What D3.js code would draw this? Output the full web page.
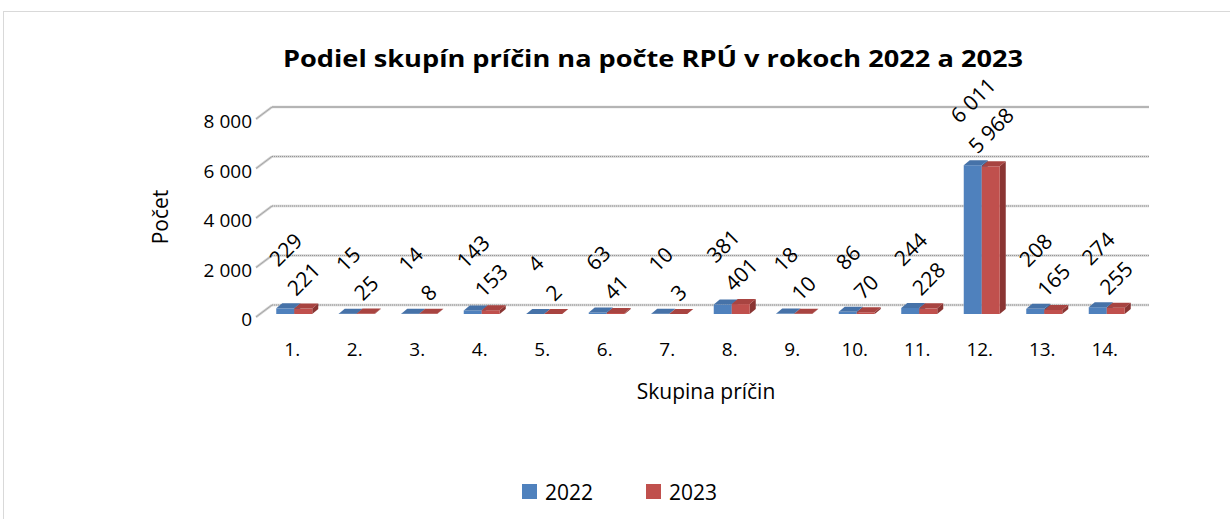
<!DOCTYPE html>
<html>
<head>
<meta charset="utf-8">
<script src="https://cdn.jsdelivr.net/npm/d3@7"></script>
<style>
  body { margin: 0; background: #fff; }
  text { font-family: "Open Sans", Lato, sans-serif; fill: #000; }
</style>
</head>
<body>
<div id="chart"></div>
<script>
const categories = ['1.', '2.', '3.', '4.', '5.', '6.', '7.', '8.', '9.', '10.', '11.', '12.', '13.', '14.']
const values2022 = [229, 15, 14, 143, 4, 63, 10, 381, 18, 86, 244, 6011, 208, 274]
const values2023 = [221, 25, 8, 153, 2, 41, 3, 401, 10, 70, 228, 5968, 165, 255]
const yTicks = [0, 2000, 4000, 6000, 8000]
const seriesNames = ['2022', '2023']

const colors = { '2022': '#4F81BD', '2023': '#C0504D' }
const topColors = { '2022': '#4672a8', '2023': '#a84441' }
const sideColors = { '2022': '#375d8c', '2023': '#8a3533' }

const width = 1230
const height = 519

// 3d offsets
const wallDx = 16, wallDy = -12
const barDx = 6, barDy = -5

const fmt = v => d3.format(',')(v).replace(/,/g, ' ')

const svg = d3
  .select('#chart')
  .append('svg')
  .attr('width', width)
  .attr('height', height)

svg
  .append('rect')
  .attr('x', 3.5)
  .attr('y', 11.5)
  .attr('width', 1240)
  .attr('height', 520)
  .attr('fill', 'none')
  .attr('stroke', '#d9d9d9')

const yScale = d3.scaleLinear().domain([0, 8000]).range([314, 116])
const xScale = d3.scaleBand().domain(categories).range([263, 1138])
const xSub = d3.scaleBand().domain(seriesNames).range([-18, 18])

// gridlines on back wall + left diagonals
const grid = svg.append('g').attr('class', 'grid')
yTicks.forEach(t => {
  const yb = yScale(t) - 9
  grid.append('line')
    .attr('x1', 256).attr('y1', yb - wallDy)
    .attr('x2', 256 + wallDx).attr('y2', yb)
    .attr('stroke', '#cfcfcf').attr('stroke-width', 2.4)
  grid.append('line')
    .attr('x1', 256).attr('y1', yb - wallDy)
    .attr('x2', 256 + wallDx).attr('y2', yb)
    .attr('stroke', '#9a9a9a').attr('stroke-width', 0.8)
  grid.append('line')
    .attr('x1', 256 + wallDx).attr('y1', yb)
    .attr('x2', 1149).attr('y2', yb)
    .attr('stroke', '#d4d4d4').attr('stroke-width', 2.6)
  grid.append('line')
    .attr('x1', 256 + wallDx).attr('y1', yb)
    .attr('x2', 1149).attr('y2', yb)
    .attr('stroke', '#8f8f8f').attr('stroke-width', 0.9)
    .attr('stroke-dasharray', t === 8000 ? null : '1,1')
})

// y axis labels
svg.append('g')
  .selectAll('text')
  .data(yTicks)
  .enter()
  .append('text')
  .attr('x', 252)
  .attr('y', d => yScale(d) + 5)
  .attr('text-anchor', 'end')
  .attr('dominant-baseline', 'central')
  .attr('font-size', 19)
  .text(d => fmt(d))

// bars
const rows = categories.map((c, i) => ({ cat: c, '2022': values2022[i], '2023': values2023[i] }))

const barsG = svg.append('g').attr('class', 'bars')
rows.forEach(row => {
  seriesNames.forEach(s => {
    const cx = xScale(row.cat) + xScale.bandwidth() / 2
    const x0 = cx + xSub(s)
    const x1 = x0 + xSub.bandwidth()
    const y0 = yScale(0)
    const y1 = yScale(row[s])
    // side
    barsG.append('path')
      .attr('d', `M${x1},${y1}L${x1 + barDx},${y1 + barDy}L${x1 + barDx},${y0 + barDy}L${x1},${y0}Z`)
      .attr('fill', sideColors[s])
    // front
    barsG.append('rect')
      .attr('x', x0).attr('y', y1)
      .attr('width', x1 - x0).attr('height', y0 - y1)
      .attr('fill', colors[s])
    // top
    barsG.append('path')
      .attr('d', `M${x0},${y1}L${x1},${y1}L${x1 + barDx},${y1 + barDy}L${x0 + barDx},${y1 + barDy}Z`)
      .attr('fill', topColors[s])
  })
})

// data labels, rotated
const gaps = { '2022': 41, '2023': 12 }
const labelsG = svg.append('g').attr('class', 'labels')
rows.forEach(row => {
  seriesNames.forEach(s => {
    const cx = xScale(row.cat) + xScale.bandwidth() / 2 + xSub(s) + xSub.bandwidth() / 2
    const top = yScale(row[s])
    const t = labelsG.append('text')
      .attr('font-size', 21)
      .attr('text-anchor', 'middle')
      .attr('dominant-baseline', 'central')
      .text(fmt(row[s]))
    const w = t.node().getComputedTextLength()
    const h = 15
    const cy = top - gaps[s] - (w + h) / 2 * 0.707
    t.attr('transform', `translate(${cx},${cy}) rotate(-45)`)
  })
})

// x axis labels
svg.append('g')
  .selectAll('text')
  .data(categories)
  .enter()
  .append('text')
  .attr('x', d => xScale(d) + xScale.bandwidth() / 2 - 2)
  .attr('y', 349)
  .attr('text-anchor', 'middle')
  .attr('dominant-baseline', 'central')
  .attr('font-size', 19)
  .text(d => d)

// title
svg.append('text')
  .attr('x', 653)
  .attr('y', 57)
  .attr('text-anchor', 'middle')
  .attr('dominant-baseline', 'central')
  .attr('font-size', 24)
  .attr('font-weight', 'bold')
  .attr('textLength', 740)
  .attr('lengthAdjust', 'spacingAndGlyphs')
  .text('Podiel skupín príčin na počte RPÚ v rokoch 2022 a 2023')

// axis titles
svg.append('text')
  .attr('transform', 'translate(160,217) rotate(-90)')
  .attr('text-anchor', 'middle')
  .attr('dominant-baseline', 'central')
  .attr('font-size', 21)
  .text('Počet')

svg.append('text')
  .attr('x', 706)
  .attr('y', 391)
  .attr('text-anchor', 'middle')
  .attr('dominant-baseline', 'central')
  .attr('font-size', 21)
  .text('Skupina príčin')

// legend
const legend = svg.append('g').attr('class', 'legend')
seriesNames.forEach((s, i) => {
  const lx = 522 + i * 124
  legend.append('rect')
    .attr('x', lx).attr('y', 484)
    .attr('width', 15).attr('height', 15)
    .attr('fill', colors[s])
  legend.append('text')
    .attr('x', lx + 23).attr('y', 492)
    .attr('dominant-baseline', 'central')
    .attr('font-size', 21)
    .text(s)
})
</script>
</body>
</html>
